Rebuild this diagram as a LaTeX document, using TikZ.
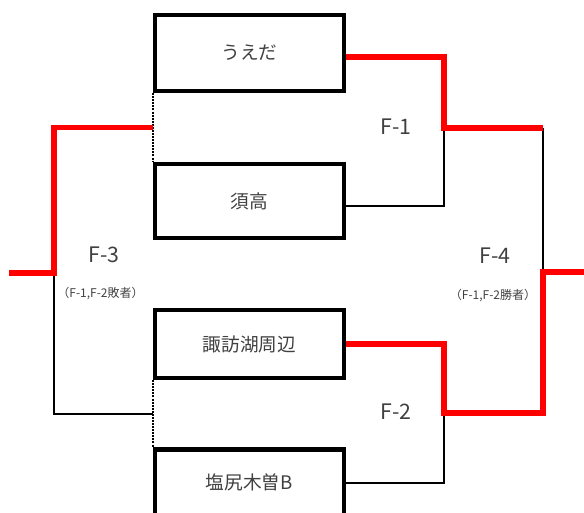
\documentclass[tikz,border=0pt]{standalone}
\usepackage{fontspec}
\setmainfont{Noto Sans CJK JP}
\usetikzlibrary{positioning,calc}
\definecolor{textgray}{RGB}{64,64,64}
\definecolor{winred}{RGB}{255,0,0}

\begin{document}
\begin{tikzpicture}[x=0.75pt,y=-0.75pt,
    team node/.style={draw,line width=3.2pt,minimum width=142pt,text=textgray,font=\fontsize{14pt}{16pt}\selectfont},
    match node/.style={text=textgray,inner sep=0pt,font=\fontsize{16pt}{18pt}\selectfont},
    note node/.style={text=textgray,inner sep=0pt,font=\fontsize{9pt}{11pt}\selectfont},
    win line/.style={draw=winred,line width=4.2pt},
    lose line/.style={draw=black,line width=1.5pt},
    join line/.style={draw=black,line width=1.5pt,dash pattern=on 1.5pt off 0.8pt}]

    \useasboundingbox (0,0) rectangle (584,512);

    % teams
    \node[team node,minimum height=57pt] (1) at (249.4,53) {うえだ};
    \node[team node,minimum height=55.7pt] (2) at (249.4,201) {須高};
    \node[team node,minimum height=51pt] (3) at (249.4,344) {諏訪湖周辺};
    \node[team node,minimum height=49.5pt] (4) at (249.4,482.5) {塩尻木曽B};

    % junctions
    \coordinate (f1) at (444,128);
    \coordinate (f1out) at (543,128);
    \coordinate (f2) at (444,413);
    \coordinate (f2out) at (543,413);
    \coordinate (f4) at (543,272);
    \coordinate (f4out) at (584,272);
    \coordinate (f3) at (54,273);
    \coordinate (f3out) at (9,273);

    % match labels
    \node[match node] (m1) at (396,127) {F-1};
    \node[match node] (m2) at (396,412) {F-2};
    \node[match node] (m3) at (104,255) {F-3};
    \node[note node] (n3) at (100.5,293) {（F-1,F-2敗者）};
    \node[match node] (m4) at (495,256) {F-4};
    \node[note node] (n4) at (493,295) {（F-1,F-2勝者）};

    % dotted joins
    \foreach \top/\bot in {1/2,3/4}{
        \path[join line] (\top.south west) -- (\bot.north west);
    }

    % F-1 and F-2
    \path[lose line] ([yshift=-3.75pt]2.east) -| (f1);
    \path[lose line] (4.east) -| (f2);
    \path[lose line] (f1out) -- (f4);
    \path[win line] ([yshift=-3pt]1.east) -| (f1) -- (f1out);
    \path[win line] (3.east) -| (f2) -- (f2out) -- (f4) -- (f4out);

    % F-3
    \path[lose line] (f3) |- ($(3.south west)!.5!(4.north west)$);
    \path[win line] (f3out) -- (f3) |- ($(1.south west)!.5!(2.north west)$);

\end{tikzpicture}
\end{document}
